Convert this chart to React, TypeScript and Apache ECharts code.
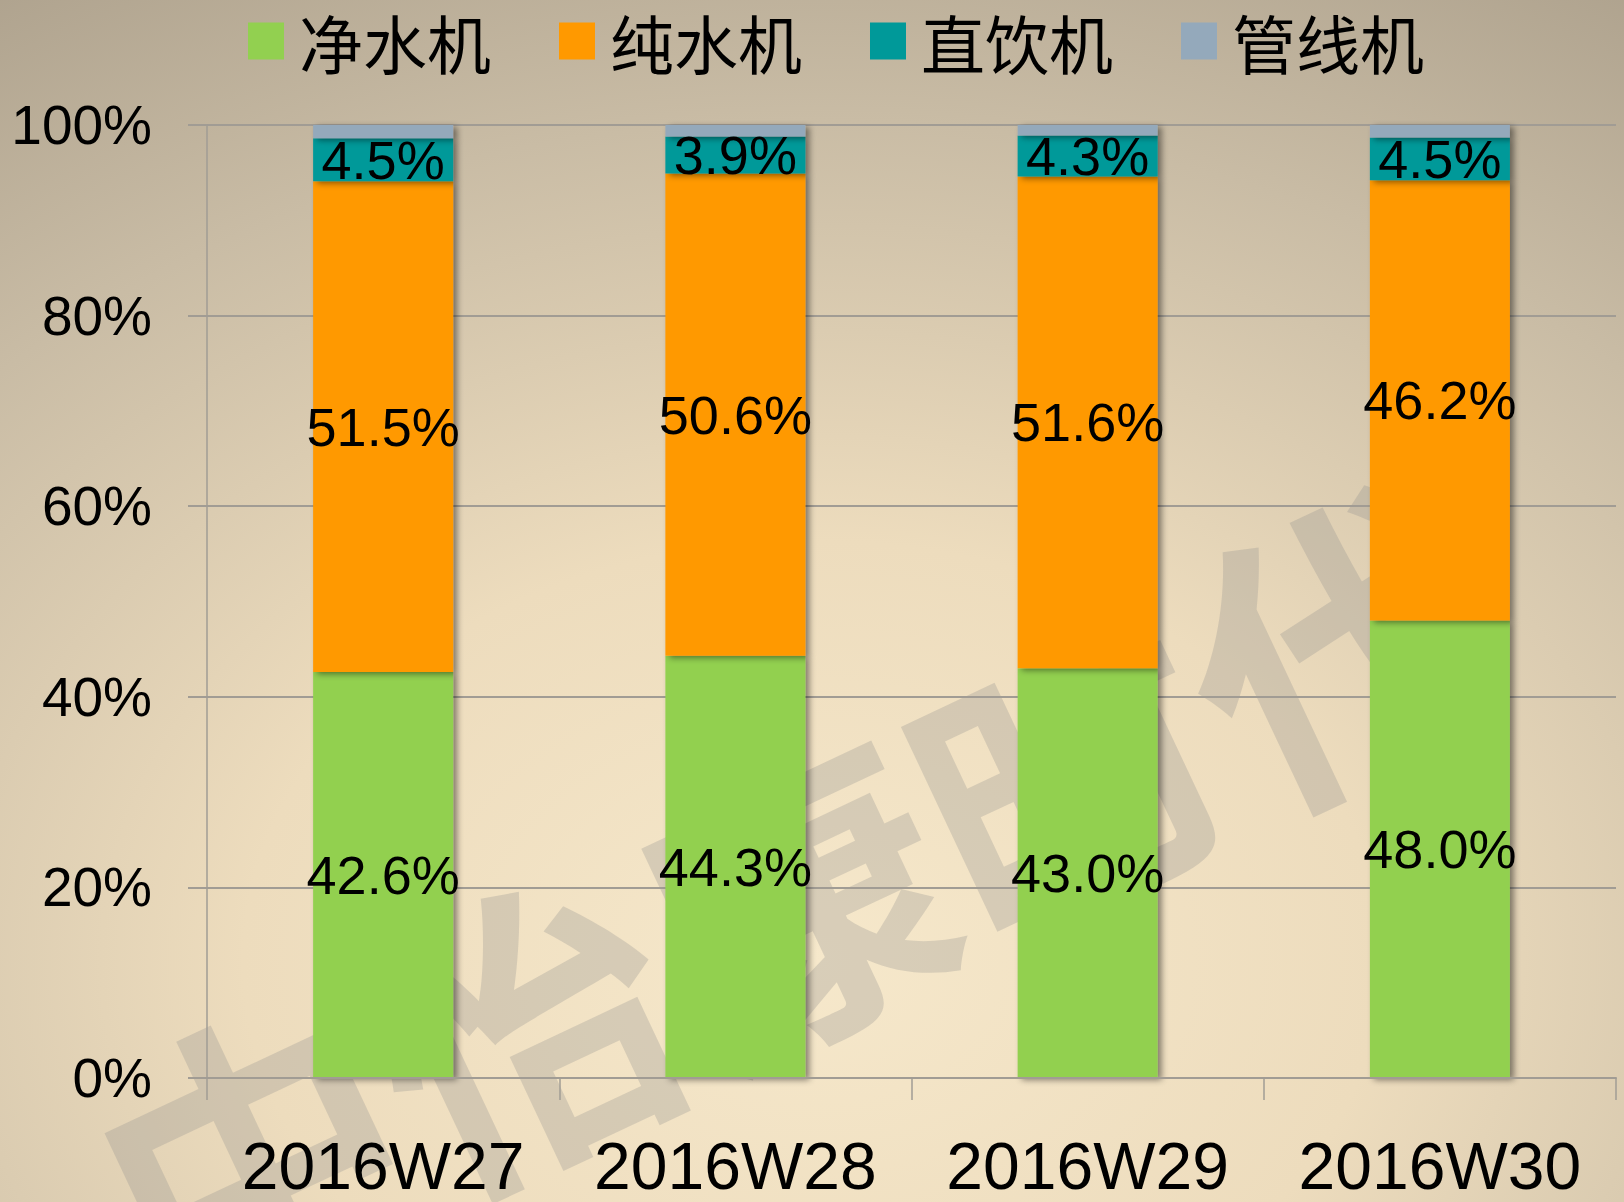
import React, { useEffect, useRef } from "react";
import * as echarts from "echarts";

const categories = ["2016W27", "2016W28", "2016W29", "2016W30"];
const seriesNames = ["净水机", "纯水机", "直饮机", "管线机"];
const jingShui = [42.6, 44.3, 43.0, 48.0];
const chunShui = [51.5, 50.6, 51.6, 46.2];
const zhiYin = [4.5, 3.9, 4.3, 4.5];
const guanXian = [1.4, 1.2, 1.1, 1.3];
const yTicks = [0, 20, 40, 60, 80, 100];
const colors = ["#92d050", "#ff9900", "#009999", "#94a9bb"];
const watermark = "中怡康时代";

const LATIN = "'Liberation Sans', Arial, sans-serif";
const CJK = "'Noto Sans CJK SC', sans-serif";

export default function App() {
  const ref = useRef<HTMLDivElement>(null);
  useEffect(() => {
    if (!ref.current) return;
    const chart = echarts.init(ref.current, null, { renderer: "svg" });
    const values = [jingShui, chunShui, zhiYin, guanXian];
    const series = values.map((data, i) => ({
      name: seriesNames[i],
      type: "bar",
      stack: "total",
      data,
      barWidth: 140,
      itemStyle: {
        color: colors[i],
        shadowColor: "rgba(0,0,0,0.45)",
        shadowBlur: 6,
        shadowOffsetX: 4,
        shadowOffsetY: 2,
      },
      label: {
        show: i < 3,
        position: "inside",
        formatter: (p: any) => `${Number(p.value).toFixed(1)}%`,
        fontSize: 54,
        fontFamily: LATIN,
        color: "#000",
        textBorderWidth: 0,
      },
      emphasis: { disabled: true },
      z: 3,
    }));
    chart.setOption({
      animation: false,
      backgroundColor: {
        type: "radial",
        x: 0.5,
        y: 0.8,
        r: 1.0,
        colorStops: [
          { offset: 0, color: "#f6e8cb" },
          { offset: 0.35, color: "#eddcbd" },
          { offset: 0.7, color: "#c9bca5" },
          { offset: 1, color: "#aa9e8a" },
        ],
      },
      graphic: [
        {
          type: "text",
          z: 0,
          x: 790,
          y: 890,
          rotation: 0.44,
          style: {
            text: watermark,
            font: `bold 300px ${CJK}`,
            fill: "rgba(140,140,140,0.28)",
            align: "center",
            verticalAlign: "middle",
          },
          silent: true,
        },
      ],
      legend: {
        data: seriesNames,
        left: 243,
        top: 0,
        icon: "rect",
        itemWidth: 36,
        itemHeight: 37,
        itemGap: 68,
        selectedMode: false,
        textStyle: {
          fontSize: 64,
          lineHeight: 72,
          fontFamily: CJK,
          color: "#000",
          padding: [0, 0, 0, 10],
        },
      },
      grid: { left: 207, right: 8, top: 125, bottom: 124, containLabel: false },
      xAxis: {
        type: "category",
        data: categories,
        axisLine: { show: true, lineStyle: { color: "#a19c94", width: 2 } },
        axisTick: { show: true, interval: 0, length: 22, lineStyle: { color: "#a19c94", width: 1.5 } },
        axisLabel: { interval: 0, fontSize: 66, fontFamily: LATIN, color: "#000", margin: 55 },
        z: 4,
      },
      yAxis: {
        type: "value",
        min: yTicks[0],
        max: yTicks[yTicks.length - 1],
        interval: 20,
        axisLine: { show: true, lineStyle: { color: "#a19c94", width: 1.5 } },
        axisTick: { show: true, length: 19, lineStyle: { color: "#a19c94", width: 2 } },
        splitLine: { show: true, lineStyle: { color: "#a19c94", width: 2 } },
        axisLabel: {
          formatter: "{value}%",
          fontSize: 55,
          fontFamily: LATIN,
          color: "#000",
          margin: 55,
        },
      },
      series,
    });
    return () => chart.dispose();
  }, []);
  return (
    <div
      ref={ref}
      style={{ position: "absolute", left: 0, top: 0, width: 1624, height: 1202 }}
    />
  );
}
